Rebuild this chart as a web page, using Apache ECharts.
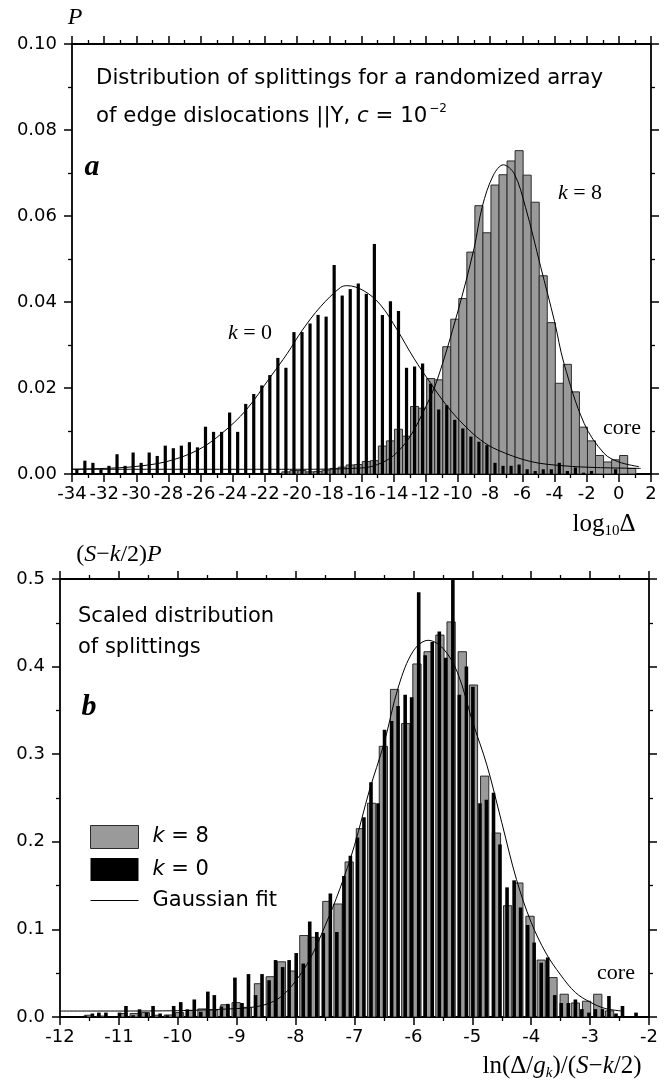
<!DOCTYPE html>
<html><head><meta charset="utf-8">
<script src="https://cdn.jsdelivr.net/npm/echarts@6.0.0/dist/echarts.min.js"></script>
<style>html,body{margin:0;padding:0;background:#fff}#c{width:670px;height:1082px}</style>
</head><body><div id="c"></div>
<script>
// ---------- Panel a : log10 Delta histograms ----------
const aBinX = [-33.7,-33.2,-32.7,-32.2,-31.7,-31.2,-30.7,-30.2,-29.7,-29.2,-28.7,-28.2,-27.7,-27.2,-26.7,-26.2,-25.7,-25.2,-24.7,-24.2,-23.7,-23.2,-22.7,-22.2,-21.7,-21.2,-20.7,-20.2,-19.7,-19.2,-18.7,-18.2,-17.7,-17.2,-16.7,-16.2,-15.7,-15.2,-14.7,-14.2,-13.7,-13.2,-12.7,-12.2,-11.7,-11.2,-10.7,-10.2,-9.7,-9.2,-8.7,-8.2,-7.7,-7.2,-6.7,-6.2,-5.7,-5.2,-4.7,-4.2,-3.7,-3.2,-2.7,-2.2,-1.7,-1.2,-0.7,-0.2,0.3,0.8];
const aK0 = [0.0011,0.0031,0.0026,0.0011,0.0019,0.0046,0.0019,0.005,0.0026,0.005,
  0.0042,0.0066,0.006,0.0066,0.0074,0.0062,0.011,0.0098,0.0098,0.0143,
  0.0098,0.0163,0.0186,0.0206,0.023,0.027,0.0247,0.033,0.033,0.035,
  0.037,0.0366,0.0486,0.0415,0.043,0.0443,0.0419,0.0535,0.037,0.0402,
  0.0379,0.0247,0.025,0.0257,0.021,0.015,0.016,0.0126,0.0106,0.0087,
  0.0075,0.0067,0.0026,0.0019,0.0019,0.0022,0.0011,0.0007,0.0011,0.0011,
  0.0026,0.0007,0.0015,0.0003,0.0007,0,0,0.0011,0,0];
const aK8 = [0,0,0,0,0,0,0,0,0,0,
  0,0,0,0,0,0,0,0,0,0,
  0,0,0,0,0,0,0.0005,0.0008,0.0008,0.0005,
  0.0006,0.0009,0.0013,0.0016,0.0021,0.0022,0.0029,0.0031,0.0065,0.0077,
  0.0104,0.0088,0.0157,0.0153,0.0222,0.0219,0.0296,0.036,0.0408,0.0516,
  0.0624,0.0561,0.0672,0.0696,0.0728,0.0752,0.0695,0.0632,0.0461,0.0352,
  0.0211,0.0255,0.0191,0.0109,0.0077,0.0043,0.0028,0.0033,0.0043,0.0013];
const aFit0X = [-34,-32,-30.17,-28.1,-26.16,-24.67,-23.17,-21.66,-20.62,-19.67,-18.55,-17.3,-16.89,-15.85,-14.81,-13.78,-12.74,-11.7,-10.66,-9.63,-8.59,-7.55,-5.48,-3.41,-1.33,1.36];
const aFit0Y = [0.0011,0.0013,0.0017,0.0029,0.0056,0.0095,0.0149,0.0226,0.028,0.0335,0.0389,0.0434,0.0438,0.0426,0.0393,0.0335,0.0269,0.0211,0.0157,0.0114,0.0079,0.0056,0.0029,0.0019,0.0015,0.0013];
const aFit8X = [-34,-20,-16,-15,-14,-13,-12,-11.29,-10.04,-9,-8.49,-7.8,-7.18,-6.5,-5.8,-4.86,-4,-3.41,-2.16,-0.92,0,1.26];
const aFit8Y = [0.0011,0.0011,0.0014,0.0022,0.0043,0.0086,0.0157,0.0219,0.0374,0.0525,0.0622,0.0695,0.0719,0.0698,0.062,0.0482,0.0355,0.0257,0.0118,0.0048,0.0028,0.0017];

// ---------- Panel b : scaled histograms ----------
const bK0X = [-11.57,-11.45,-11.34,-11.22,-11.11,-10.99,-10.88,-10.76,-10.65,-10.53,-10.42,-10.30,-10.18,-10.07,-9.95,-9.84,-9.72,-9.61,-9.49,-9.38,-9.26,-9.15,-9.03,-8.91,-8.80,-8.68,-8.57,-8.45,-8.34,-8.22,-8.11,-7.99,-7.87,-7.76,-7.64,-7.53,-7.41,-7.30,-7.18,-7.07,-6.95,-6.84,-6.72,-6.60,-6.49,-6.37,-6.26,-6.14,-6.03,-5.91,-5.80,-5.68,-5.56,-5.45,-5.33,-5.22,-5.10,-4.99,-4.87,-4.76,-4.64,-4.53,-4.41,-4.29,-4.18,-4.06,-3.95,-3.83,-3.72,-3.60,-3.49,-3.37,-3.25,-3.14,-3.02,-2.91,-2.79,-2.68,-2.56,-2.45,-2.33,-2.22];
const bK0 = [0.0015,0.004,0.005,0.005,0,0.005,0.0126,0.002,0.0088,0.005,
  0.0126,0.004,0.002,0.0126,0.017,0.0088,0.020,0.006,0.029,0.025,
  0.012,0.015,0.045,0.016,0.049,0.025,0.049,0.042,0.065,0.057,
  0.065,0.073,0.061,0.109,0.097,0.096,0.141,0.097,0.161,0.184,
  0.205,0.228,0.268,0.244,0.328,0.338,0.355,0.368,0.365,0.485,
  0.413,0.428,0.440,0.410,0.500,0.368,0.400,0.377,0.244,0.248,
  0.256,0.197,0.148,0.156,0.125,0.105,0.085,0.062,0.068,0.025,
  0.016,0.016,0.020,0.009,0.005,0.009,0.009,0.024,0.004,0.0126,0,0.005];
const bK8X = [-11.51,-11.31,-11.12,-10.93,-10.74,-10.55,-10.35,-10.16,-9.97,-9.78,-9.59,-9.39,-9.20,-9.01,-8.82,-8.63,-8.43,-8.24,-8.05,-7.86,-7.67,-7.47,-7.28,-7.09,-6.90,-6.71,-6.51,-6.32,-6.13,-5.94,-5.75,-5.55,-5.36,-5.17,-4.98,-4.79,-4.59,-4.40,-4.21,-4.02,-3.83,-3.63,-3.44,-3.25,-3.06,-2.87,-2.67];
const bK8 = [0.002,0.001,0,0.004,0.004,0.005,0.002,0.0023,0.005,0.0075,
  0.0092,0.008,0.014,0.0164,0.011,0.038,0.046,0.063,0.0525,0.093,
  0.091,0.132,0.129,0.177,0.215,0.244,0.309,0.374,0.335,0.403,
  0.417,0.436,0.451,0.417,0.379,0.275,0.210,0.127,0.153,0.115,
  0.065,0.045,0.026,0.016,0.018,0.026,0.007];
const bFitX = [-12,-11,-10,-9.5,-9,-8.75,-8.5,-8.25,-8,-7.75,-7.5,-7.25,-7,-6.75,-6.5,-6.25,-6,-5.75,-5.5,-5.25,-5,-4.75,-4.5,-4.25,-4,-3.75,-3.5,-3.25,-3,-2.75,-2.45];
const bFitY = [0.0068,0.0068,0.0072,0.0082,0.0096,0.011,0.0145,0.023,0.041,0.067,0.104,0.146,0.196,0.258,0.312,0.378,0.418,0.430,0.421,0.393,0.338,0.287,0.222,0.157,0.108,0.073,0.048,0.028,0.017,0.0098,0.0068];

// axis ranges [min, max, interval]
const aXRange = [-34, 2, 2], aYRange = [0, 0.10, 0.02];
const bXRange = [-12, -2, 1], bYRange = [0, 0.5, 0.1];

const SANS = '"DejaVu Sans"';
const SERIF = '"Liberation Serif"';
const pairs = (xs, ys) => xs.map((x, i) => [x, ys[i]]);

function grayBar(unitW) {
  return function (params, api) {
    const x = api.value(0), v = api.value(1);
    if (!v) return null;
    const a = api.coord([x - unitW / 2, 0]);
    const b = api.coord([x + unitW / 2, v]);
    return { type: 'rect', shape: { x: a[0], y: b[1], width: b[0] - a[0], height: a[1] - b[1] },
      style: { fill: '#9a9a9a', stroke: '#2b2b2b', lineWidth: 1 } };
  };
}
function blackBar(pxW) {
  return function (params, api) {
    const x = api.value(0), v = api.value(1);
    if (!v) return null;
    const a = api.coord([x, 0]);
    const b = api.coord([x, v]);
    return { type: 'rect', shape: { x: a[0] - pxW / 2, y: b[1], width: pxW, height: a[1] - b[1] },
      style: { fill: '#000' } };
  };
}

function axis(grid, pos, range, showLabel, fmt) {
  return {
    type: 'value', gridIndex: grid, position: pos,
    min: range[0], max: range[1], interval: range[2],
    axisLine: { show: true, onZero: false, lineStyle: { color: '#000', width: 1.8 } },
    axisTick: { show: true, inside: false, length: 8, lineStyle: { color: '#000', width: 1.5 } },
    minorTick: { show: true, splitNumber: 2, length: 4, lineStyle: { color: '#000', width: 1.3 } },
    splitLine: { show: false }, minorSplitLine: { show: false },
    axisLabel: { show: showLabel, color: '#000', fontFamily: SANS, fontSize: 18,
      margin: (pos === 'left') ? 15 : 11, formatter: fmt }
  };
}

const chart = echarts.init(document.getElementById('c'), null, { renderer: 'canvas' });

const option = {
  animation: false,
  backgroundColor: '#fff',
  grid: [
    { left: 72, top: 44, width: 579, height: 430 },
    { left: 60, top: 579, width: 589, height: 438 }
  ],
  xAxis: [
    axis(0, 'bottom', aXRange, true, v => String(v)),
    axis(0, 'top', aXRange, false),
    axis(1, 'bottom', bXRange, true, v => String(v)),
    axis(1, 'top', bXRange, false)
  ],
  yAxis: [
    axis(0, 'left', aYRange, true, v => v.toFixed(2)),
    axis(0, 'right', aYRange, false),
    axis(1, 'left', bYRange, true, v => v.toFixed(1)),
    axis(1, 'right', bYRange, false)
  ],
  legend: {
    orient: 'vertical', left: 90, top: 825, padding: 0,
    itemWidth: 48, itemHeight: 23, itemGap: 9, selectedMode: false,
    textStyle: { fontFamily: SANS, fontSize: 21, color: '#000', padding: [0, 0, 0, 9],
      rich: { i: { fontFamily: SANS, fontSize: 21, fontStyle: 'italic', color: '#000' },
              n: { fontFamily: SANS, fontSize: 21, color: '#000' } } },
    formatter: name => name === 'Gaussian fit' ? '{n|Gaussian fit}' : '{i|k}{n|' + name.slice(1) + '}',
    data: [
      { name: 'k = 8', icon: 'rect', itemStyle: { color: '#9a9a9a', borderColor: '#2b2b2b', borderWidth: 1 } },
      { name: 'k = 0', icon: 'rect', itemStyle: { color: '#000' } },
      { name: 'Gaussian fit', itemStyle: { opacity: 0 }, lineStyle: { color: '#000', width: 1 } }
    ]
  },
  series: [
    { name: 'k = 8 (a)', type: 'custom', xAxisIndex: 0, yAxisIndex: 0, clip: true, z: 2,
      renderItem: grayBar(0.5), encode: { x: 0, y: 1 }, data: pairs(aBinX, aK8) },
    { name: 'k = 0 (a)', type: 'custom', xAxisIndex: 0, yAxisIndex: 0, clip: true, z: 3,
      renderItem: blackBar(3.2), encode: { x: 0, y: 1 }, data: pairs(aBinX, aK0) },
    { name: 'fit k = 0 (a)', type: 'line', xAxisIndex: 0, yAxisIndex: 0, z: 4, smooth: 0.35,
      symbol: 'none', itemStyle: { color: '#000' }, lineStyle: { color: '#000', width: 1 }, data: pairs(aFit0X, aFit0Y) },
    { name: 'fit k = 8 (a)', type: 'line', xAxisIndex: 0, yAxisIndex: 0, z: 4, smooth: 0.35,
      symbol: 'none', itemStyle: { color: '#000' }, lineStyle: { color: '#000', width: 1 }, data: pairs(aFit8X, aFit8Y) },

    { name: 'k = 8', type: 'custom', xAxisIndex: 2, yAxisIndex: 2, clip: true, z: 2,
      itemStyle: { color: '#9a9a9a' },
      renderItem: grayBar(0.14), encode: { x: 0, y: 1 }, data: pairs(bK8X, bK8) },
    { name: 'k = 0', type: 'custom', xAxisIndex: 2, yAxisIndex: 2, clip: true, z: 3,
      itemStyle: { color: '#000' },
      renderItem: blackBar(3.6), encode: { x: 0, y: 1 }, data: pairs(bK0X, bK0) },
    { name: 'Gaussian fit', type: 'line', xAxisIndex: 2, yAxisIndex: 2, z: 4, smooth: 0.35,
      symbol: 'none', itemStyle: { color: '#000' }, lineStyle: { color: '#000', width: 1 }, data: pairs(bFitX, bFitY) }
  ],
  graphic: [
    { type: 'text', x: 75, y: 18, style: { text: 'P', font: 'italic 24px ' + SERIF, fill: '#000', align: 'center', verticalAlign: 'middle' } },
    { type: 'text', x: 96, y: 78, style: { text: 'Distribution of splittings for a randomized array', font: '21.3px ' + SANS, fill: '#000', align: 'left', verticalAlign: 'middle' } },
    { type: 'text', x: 96, y: 116, style: {
        text: '{n|of edge dislocations ||Y, }{i|c}{n| = 10}{s|−2}', align: 'left', verticalAlign: 'middle',
        rich: { n: { fontFamily: SANS, fontSize: 21.3, fill: '#000' },
                i: { fontFamily: SANS, fontSize: 21.3, fontStyle: 'italic', fill: '#000' },
                s: { fontFamily: SANS, fontSize: 12, fill: '#000', padding: [0, 0, 14, 2] } } } },
    { type: 'text', x: 92, y: 167, style: { text: 'a', font: 'italic bold 30px ' + SERIF, fill: '#000', align: 'center', verticalAlign: 'middle' } },
    { type: 'text', x: 250, y: 333, style: { text: '{i|k}{r| = 0}', align: 'center', verticalAlign: 'middle',
        rich: { i: { fontFamily: SERIF, fontSize: 22, fontStyle: 'italic', fill: '#000' }, r: { fontFamily: SERIF, fontSize: 22, fill: '#000' } } } },
    { type: 'text', x: 580, y: 193, style: { text: '{i|k}{r| = 8}', align: 'center', verticalAlign: 'middle',
        rich: { i: { fontFamily: SERIF, fontSize: 22, fontStyle: 'italic', fill: '#000' }, r: { fontFamily: SERIF, fontSize: 22, fill: '#000' } } } },
    { type: 'text', x: 622, y: 428, style: { text: 'core', font: '22px ' + SERIF, fill: '#000', align: 'center', verticalAlign: 'middle' } },
    { type: 'text', x: 604, y: 524, style: { text: '{r|log}{s|10}{r|Δ}', align: 'center', verticalAlign: 'middle',
        rich: { r: { fontFamily: SERIF, fontSize: 25, fill: '#000' }, s: { fontFamily: SERIF, fontSize: 15, fill: '#000', padding: [14, 0, 0, 0] } } } },

    { type: 'text', x: 119, y: 555, style: { text: '{r|(}{i|S}{r|−}{i|k}{r|/2)}{i|P}', align: 'center', verticalAlign: 'middle',
        rich: { r: { fontFamily: SERIF, fontSize: 24, fill: '#000' }, i: { fontFamily: SERIF, fontSize: 24, fontStyle: 'italic', fill: '#000' } } } },
    { type: 'text', x: 78, y: 617, style: { text: 'Scaled distribution', font: '21px ' + SANS, fill: '#000', align: 'left', verticalAlign: 'middle' } },
    { type: 'text', x: 78, y: 648, style: { text: 'of splittings', font: '21px ' + SANS, fill: '#000', align: 'left', verticalAlign: 'middle' } },
    { type: 'text', x: 89, y: 707, style: { text: 'b', font: 'italic bold 30px ' + SERIF, fill: '#000', align: 'center', verticalAlign: 'middle' } },
    { type: 'text', x: 616, y: 973, style: { text: 'core', font: '22px ' + SERIF, fill: '#000', align: 'center', verticalAlign: 'middle' } },
    { type: 'text', x: 562, y: 1066, style: { text: '{r|ln(Δ/}{i|g}{s|k}{r|)/(}{i|S}{r|−}{i|k}{r|/2)}', align: 'center', verticalAlign: 'middle',
        rich: { r: { fontFamily: SERIF, fontSize: 25, fill: '#000' }, i: { fontFamily: SERIF, fontSize: 25, fontStyle: 'italic', fill: '#000' },
                s: { fontFamily: SERIF, fontSize: 15, fontStyle: 'italic', fill: '#000', padding: [14, 0, 0, 0] } } } }
  ]
};
chart.setOption(option);
</script></body></html>
